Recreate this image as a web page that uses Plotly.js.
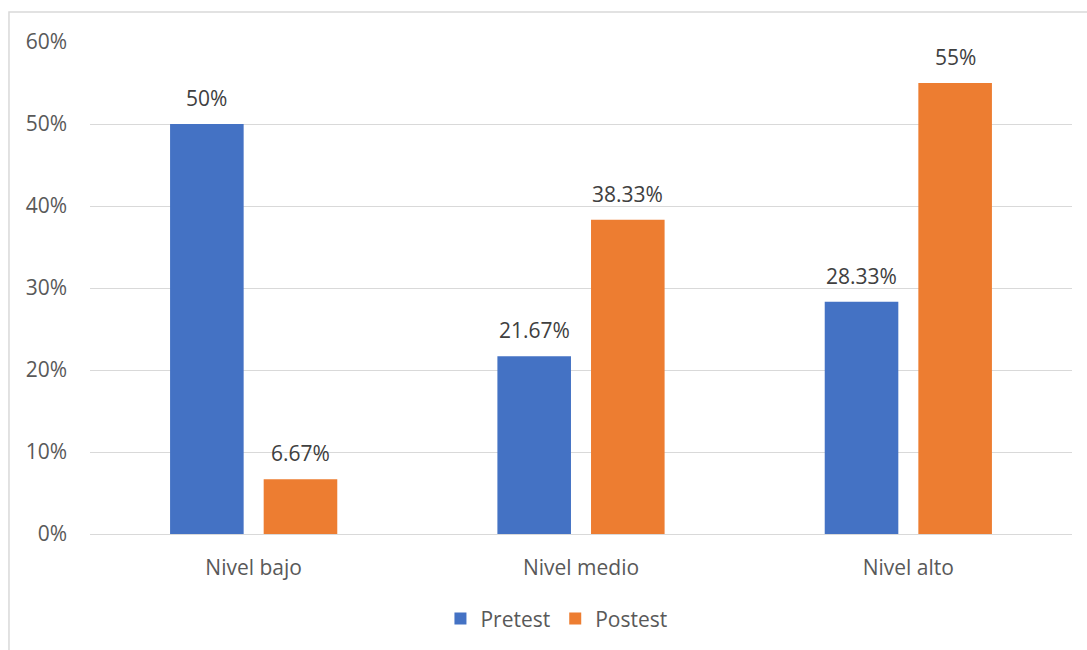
<!DOCTYPE html>
<html>
<head>
<meta charset="utf-8">
<script src="https://cdn.plot.ly/plotly-3.0.1.min.js"></script>
<style>
  html, body { margin: 0; padding: 0; background: #ffffff; }
  #chart { width: 1087px; height: 650px; }
</style>
</head>
<body>
<div id="chart"></div>
<script>
// Levels and percentages per test
const categories = ['Nivel bajo', 'Nivel medio', 'Nivel alto'];
const pretest = [50, 21.67, 28.33];
const postest = [6.67, 38.33, 55];
const seriesNames = ['Pretest', 'Postest'];
const yTicks = [0, 10, 20, 30, 40, 50, 60];

const FONT = '"Open Sans", sans-serif';
const FS = 21;
const BLUE = '#4472C4';
const ORANGE = '#ED7D31';

// horizontal pixel offset of each bar centre from its category centre
const BAR_OFFSET = 46.75;

function barTrace(name, values, color) {
  return {
    type: 'bar',
    name: name,
    x: categories,
    y: values,
    marker: { color: color },
    hoverinfo: 'skip'
  };
}

// value labels above each bar, built from the same series values
function valueLabels(values, side) {
  return values.map((v, i) => ({
    x: categories[i],
    y: v,
    xref: 'x', yref: 'y',
    text: v + '%',
    showarrow: false,
    xshift: side * BAR_OFFSET,
    yanchor: 'bottom',
    yshift: 10,
    font: { family: FONT, size: FS, color: '#404040' }
  }));
}

const data = [
  barTrace(seriesNames[0], pretest, BLUE),
  barTrace(seriesNames[1], postest, ORANGE)
];

const layout = {
  width: 1087,
  height: 650,
  margin: { l: 90, r: 15, t: 42, b: 115 },
  paper_bgcolor: '#ffffff',
  plot_bgcolor: '#ffffff',
  barmode: 'group',
  bargap: 0.428,
  bargroupgap: 0.214,
  font: { family: FONT, size: FS, color: '#595959' },
  xaxis: {
    type: 'category',
    showgrid: false,
    showline: false,
    ticks: '',
    ticklabelstandoff: 19,
    tickfont: { family: FONT, size: FS, color: '#595959' }
  },
  yaxis: {
    range: [0, 60],
    tickvals: yTicks,
    ticktext: yTicks.map(v => v + '%'),
    showgrid: true,
    gridcolor: '#d9d9d9',
    gridwidth: 1,
    zeroline: true,
    zerolinecolor: '#d9d9d9',
    zerolinewidth: 1,
    showline: false,
    ticks: '',
    ticklabelstandoff: 22,
    tickfont: { family: FONT, size: FS, color: '#595959' }
  },
  showlegend: true,
  legend: {
    orientation: 'h',
    x: 0.475,
    xanchor: 'center',
    y: -0.17,
    yanchor: 'middle',
    font: { family: FONT, size: FS, color: '#595959' },
    itemwidth: 30,
    traceorder: 'normal'
  },
  annotations: valueLabels(pretest, -1).concat(valueLabels(postest, 1)),
  shapes: [{
    type: 'rect',
    xref: 'paper', yref: 'paper',
    x0: -0.0825, x1: 1.03,
    y0: -0.26, y1: 1.0609,
    line: { color: '#d9d9d9', width: 1.5 },
    fillcolor: 'rgba(0,0,0,0)',
    layer: 'below'
  }]
};

Plotly.newPlot('chart', data, layout, { displayModeBar: false, staticPlot: true });
</script>
</body>
</html>
